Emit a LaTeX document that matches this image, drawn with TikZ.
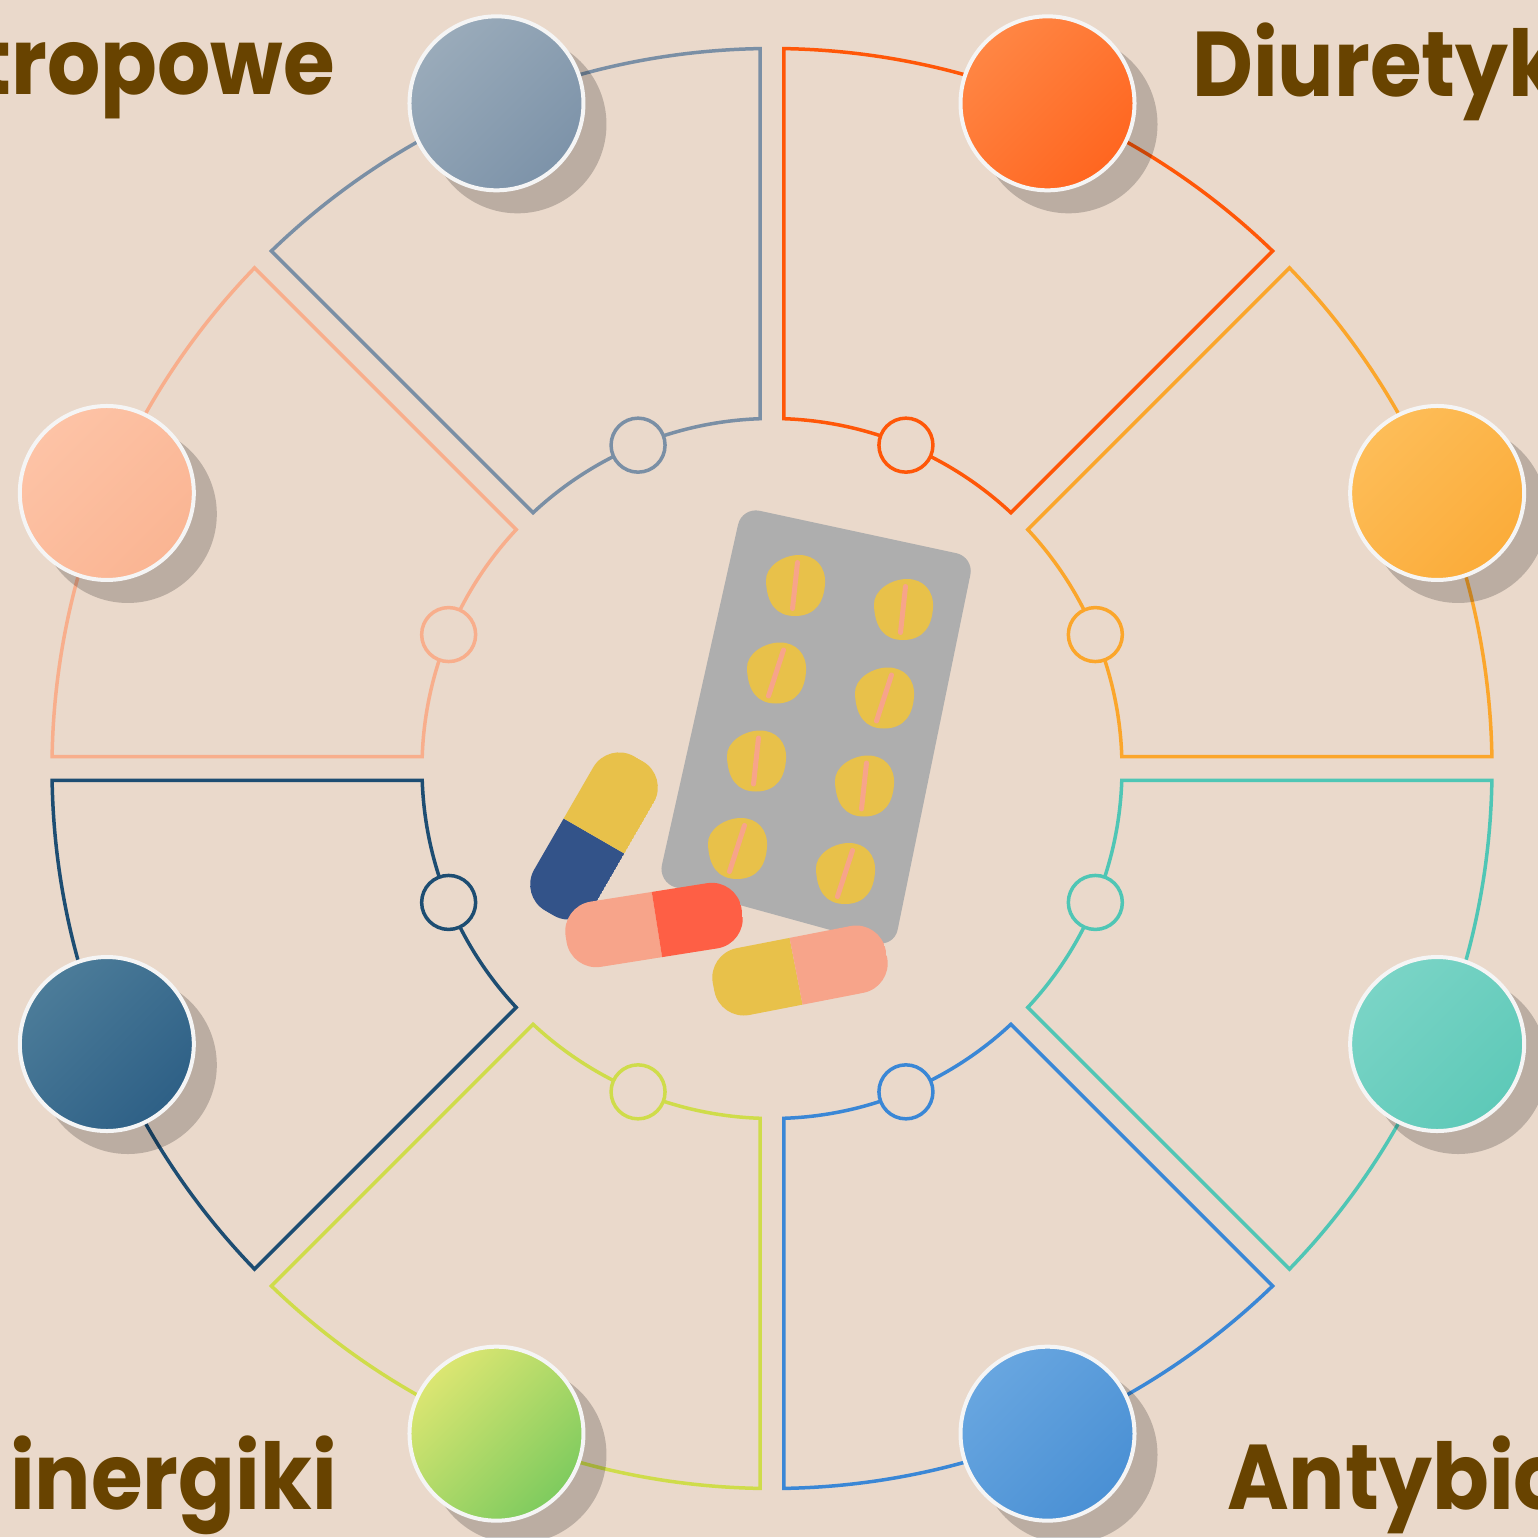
\documentclass[tikz,border=0pt]{standalone}
\usepackage{fontspec}
\newfontfamily\labelfont{Poppins}[FakeStretch=0.91]

\definecolor{paper}{HTML}{EAD9CB}
\definecolor{labelbrown}{HTML}{684300}
% sector outlines
\definecolor{wgray}{HTML}{7A8FA5}
\definecolor{wred}{HTML}{FF5708}
\definecolor{worange}{HTML}{FBA62B}
\definecolor{wteal}{HTML}{4FC6B5}
\definecolor{wblue}{HTML}{3A87D6}
\definecolor{wgreen}{HTML}{CFDC4A}
\definecolor{wnavy}{HTML}{1D4D72}
\definecolor{wpeach}{HTML}{F8AE8C}
% disc fills, light and dark end
\definecolor{graylt}{HTML}{9AABBA}
\definecolor{graydk}{HTML}{7D93A9}
\definecolor{redlt}{HTML}{FF8644}
\definecolor{reddk}{HTML}{FF6620}
\definecolor{orangelt}{HTML}{FDBD58}
\definecolor{orangedk}{HTML}{FBAC3A}
\definecolor{teallt}{HTML}{7AD4C6}
\definecolor{tealdk}{HTML}{5EC9B8}
\definecolor{bluelt}{HTML}{68A6E0}
\definecolor{bluedk}{HTML}{4A90D4}
\definecolor{greenlt}{HTML}{DCE672}
\definecolor{greendk}{HTML}{7ECB5E}
\definecolor{navylt}{HTML}{4C7C99}
\definecolor{navydk}{HTML}{2E6086}
\definecolor{peachlt}{HTML}{FDC3A6}
\definecolor{peachdk}{HTML}{FAB593}
% pills
\definecolor{blistergray}{HTML}{AEAEAE}
\definecolor{pillyellow}{HTML}{E8C14A}
\definecolor{pillnavy}{HTML}{335389}
\definecolor{pillpink}{HTML}{F7A48A}
\definecolor{pillred}{HTML}{FE5F45}

\begin{document}
\begin{tikzpicture}[x=1pt, y=1pt,
  sector/.style={line width=3.5pt, line join=miter},
  ring/.style={line width=3.5pt, fill=paper},
  dropshade/.style={fill=black, opacity=0.2},
  disc/.style={draw=white!96!black, line width=4pt},
  headline/.style={font=\labelfont\bfseries\fontsize{92}{92}\selectfont, text=labelbrown, inner sep=0pt},
  score/.style={draw=pillpink, line width=5pt, line cap=round}]
  \fill[paper] (-772,-768.5) rectangle (766,768.5);
  \useasboundingbox (-772,-768.5) rectangle (766,768.5);

  % eight sectors with a small ring on the inner arc
  \foreach \a/\lc in {90/wgray,45/wred,0/worange,-45/wteal,-90/wblue,-135/wgreen,180/wnavy,135/wpeach}{
    \draw[sector, draw=\lc] ({\a+0.95}:720) -- ({\a+1.96}:350)
      arc[start angle={\a+1.96}, end angle={\a+43.04}, radius=350]
      -- ({\a+44.05}:720)
      arc[start angle={\a+44.05}, end angle={\a+0.95}, radius=720] -- cycle;
    \draw[ring, draw=\lc] ({\a+22.5}:350) circle[radius=27];
  }

  % discs on the outer arc
  \foreach \a/\cl/\cd in {90/graylt/graydk,45/redlt/reddk,0/orangelt/orangedk,-45/teallt/tealdk,
                          -90/bluelt/bluedk,-135/greenlt/greendk,180/navylt/navydk,135/peachlt/peachdk}{
    \fill[dropshade, shift={(21,-21)}] ({\a+22.5}:720) circle[radius=89];
    \draw[disc, top color=\cl, bottom color=\cd, shading angle=45] ({\a+22.5}:720) circle[radius=87];
  }

  \node[headline, anchor=base east] (inotrop) at (-437,673.5) {tropowe};
  \node[headline, anchor=base west] (diuret) at (420,671.5) {Diuretyk};
  \node[headline, anchor=base west] (cholin) at (-762,-740.5) {inergiki};
  \node[headline, anchor=base west] (antybio) at (455,-740.5) {Antybio};

  % blister pack
  \fill[blistergray, rounded corners=18] (-30,261.5) -- (202,211.5) -- (122,-179) -- (-114,-114) -- cycle;
  \foreach \tx/\ty/\tilt in {23/183/2.5, 131/159/2.5, 4/95.5/7.5, 112/70.5/7.5,
                             -16/7.5/2.5, 92/-17.5/2.5, -35/-80/7.5, 73/-105/7.5}{
    \fill[pillyellow, shift={(\tx,\ty)}] (-29,4) .. controls (-30,19) and (-12,30.5) .. (4,30.5)
      .. controls (20,30.5) and (31,19) .. (30,2) .. controls (29,-17) and (20,-30.5) .. (0,-30.5)
      .. controls (-18,-30.5) and (-28,-19) .. (-29,4) -- cycle;
    \draw[score, shift={(\tx,\ty)}] (\tilt,23) -- (-\tilt,-23);
  }

  % loose capsules
  \begin{scope}[shift={(-178,-67.5)}, rotate=60]
    \clip[rounded corners=30] (-89,-35) rectangle (89,35);
    \fill[pillnavy] (-89,-35) rectangle (0,35);
    \fill[pillyellow] (0,-35) rectangle (89,35);
  \end{scope}
  \begin{scope}[shift={(-118,-156.5)}, rotate=9]
    \clip[rounded corners=30] (-89,-33) rectangle (89,33);
    \fill[pillpink] (-89,-33) rectangle (3,33);
    \fill[pillred] (3,-33) rectangle (89,33);
  \end{scope}
  \begin{scope}[shift={(28,-202)}, rotate=11]
    \clip[rounded corners=30] (-88,-34) rectangle (88,34);
    \fill[pillyellow] (-88,-34) rectangle (-4,34);
    \fill[pillpink] (-4,-34) rectangle (88,34);
  \end{scope}
\end{tikzpicture}
\end{document}
